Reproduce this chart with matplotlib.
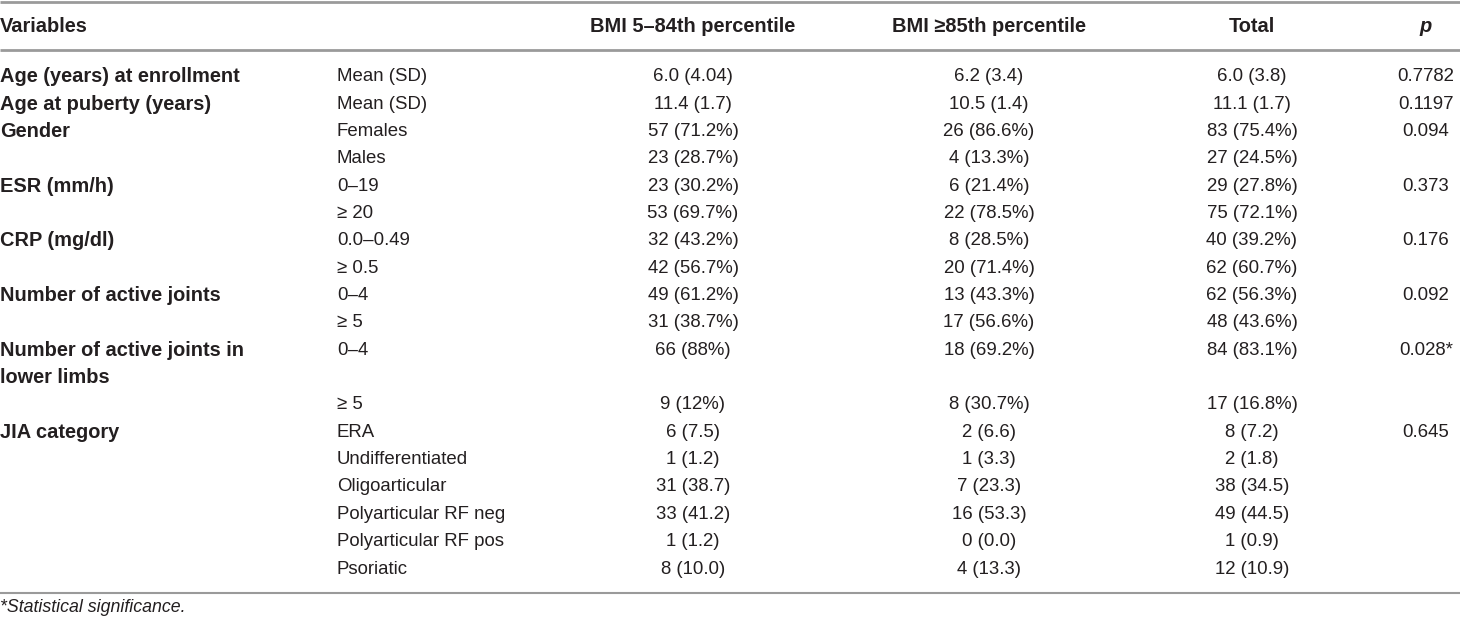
import matplotlib
matplotlib.use("Agg")
import matplotlib.pyplot as plt

# ---- data ----
headers = ["Variables", "", "BMI 5\u201384th percentile", "BMI \u226585th percentile", "Total", "p"]

variables = ["Age (years) at enrollment", "Age at puberty (years)", "Gender", "", "ESR (mm/h)", "",
             "CRP (mg/dl)", "", "Number of active joints", "", "Number of active joints in", "lower limbs",
             "", "JIA category", "", "", "", "", ""]

levels = ["Mean (SD)", "Mean (SD)", "Females", "Males", "0\u201319", "\u2265 20", "0.0\u20130.49", "\u2265 0.5",
          "0\u20134", "\u2265 5", "0\u20134", "", "\u2265 5", "ERA", "Undifferentiated", "Oligoarticular",
          "Polyarticular RF neg", "Polyarticular RF pos", "Psoriatic"]

bmi_normal = ["6.0 (4.04)", "11.4 (1.7)", "57 (71.2%)", "23 (28.7%)", "23 (30.2%)", "53 (69.7%)",
              "32 (43.2%)", "42 (56.7%)", "49 (61.2%)", "31 (38.7%)", "66 (88%)", "", "9 (12%)",
              "6 (7.5)", "1 (1.2)", "31 (38.7)", "33 (41.2)", "1 (1.2)", "8 (10.0)"]

bmi_over = ["6.2 (3.4)", "10.5 (1.4)", "26 (86.6%)", "4 (13.3%)", "6 (21.4%)", "22 (78.5%)",
            "8 (28.5%)", "20 (71.4%)", "13 (43.3%)", "17 (56.6%)", "18 (69.2%)", "", "8 (30.7%)",
            "2 (6.6)", "1 (3.3)", "7 (23.3)", "16 (53.3)", "0 (0.0)", "4 (13.3)"]

total = ["6.0 (3.8)", "11.1 (1.7)", "83 (75.4%)", "27 (24.5%)", "29 (27.8%)", "75 (72.1%)",
         "40 (39.2%)", "62 (60.7%)", "62 (56.3%)", "48 (43.6%)", "84 (83.1%)", "", "17 (16.8%)",
         "8 (7.2)", "2 (1.8)", "38 (34.5)", "49 (44.5)", "1 (0.9)", "12 (10.9)"]

p_values = ["0.7782", "0.1197", "0.094", "", "0.373", "", "0.176", "", "0.092", "", "0.028*", "", "",
            "0.645", "", "", "", "", ""]

footnote = "*Statistical significance."

# ---- layout ----
W, H = 1460, 624
fig = plt.figure(figsize=(W / 100, H / 100), dpi=100)
ax = fig.add_axes([0, 0, 1, 1])
ax.set_xlim(0, W)
ax.set_ylim(H, 0)
ax.axis("off")

FONT = "Liberation Sans"
TXT = "#231f20"
LINE = "#9a9a9a"
REG = 13.4
BOLD = 14.4

col_x = [0, 337, 693, 989, 1252, 1426]
col_ha = ["left", "left", "center", "center", "center", "center"]

header_y = 26
row0 = 76.7
step = 27.35

# rules
ax.plot([0, W], [1.5, 1.5], color=LINE, lw=2.0, solid_capstyle="butt")
ax.plot([0, W], [50, 50], color=LINE, lw=2.0, solid_capstyle="butt")
ax.plot([0, W], [593, 593], color=LINE, lw=1.5, solid_capstyle="butt")

# header
for j, h in enumerate(headers):
    if not h:
        continue
    style = "italic" if h == "p" else "normal"
    ax.text(col_x[j], header_y, h, ha=col_ha[j], va="center", fontsize=BOLD, fontweight="bold",
            fontstyle=style, family=FONT, color=TXT)

# body
columns = [variables, levels, bmi_normal, bmi_over, total, p_values]
for j, col in enumerate(columns):
    for i, val in enumerate(col):
        if not val:
            continue
        y = row0 + i * step
        if j == 0:
            ax.text(col_x[j], y, val, ha="left", va="center", fontsize=BOLD, fontweight="bold",
                    family=FONT, color=TXT)
        else:
            ax.text(col_x[j], y, val, ha=col_ha[j], va="center", fontsize=REG,
                    family=FONT, color=TXT)

ax.text(0, 607, footnote, ha="left", va="center", fontsize=12.8, fontstyle="italic",
        family=FONT, color=TXT)

fig.savefig("out.png", dpi=100, facecolor="white")
